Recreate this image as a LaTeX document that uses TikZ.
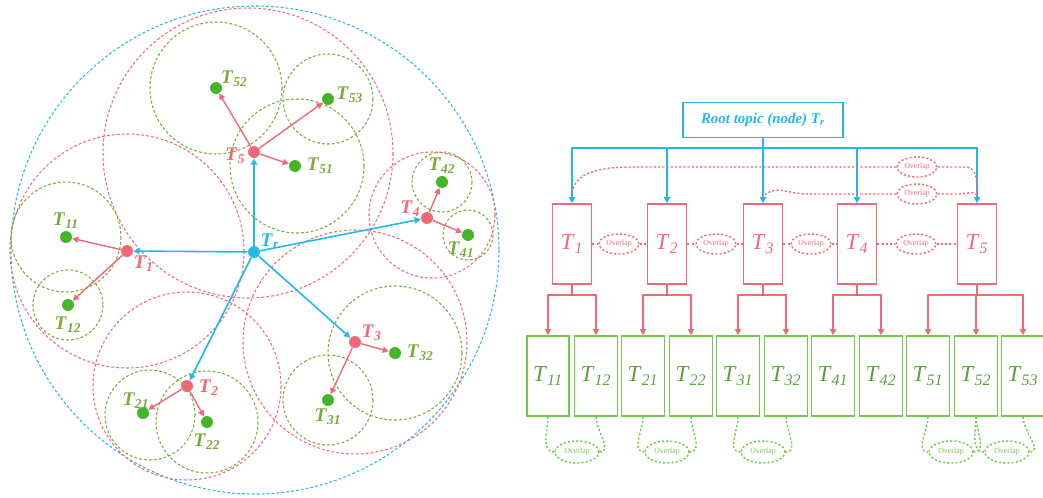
\documentclass[tikz,border=0pt]{standalone}
\usepackage{fontspec}
\setmainfont{Liberation Serif}
\usepackage{xcolor}
\usetikzlibrary{arrows.meta}
\usetikzlibrary{positioning, shapes.geometric}

\definecolor{tblue}{RGB}{35,185,230}
\definecolor{tred}{RGB}{240,105,120}
\definecolor{tgreen}{RGB}{115,200,75}
\definecolor{tdotg}{RGB}{70,180,40}
\definecolor{tolive}{RGB}{125,170,60}
\newcommand{\Tsub}[1]{\textit{T}\textsubscript{\textit{#1}}}

\begin{document}
\begin{tikzpicture}[x=0.02cm, y=-0.02cm,
    bdot/.style={circle, fill=tblue, minimum size=0.24cm, inner sep=0pt},
    rdot/.style={circle, fill=tred, minimum size=0.24cm, inner sep=0pt},
    gdot/.style={circle, fill=tdotg, minimum size=0.24cm, inner sep=0pt},
    blab/.style={text=tblue, font=\bfseries\fontsize{11}{11}\selectfont, inner sep=1pt},
    rlab/.style={text=tred, font=\bfseries\fontsize{11}{11}\selectfont, inner sep=1pt},
    glab/.style={text=tolive, font=\bfseries\fontsize{11}{11}\selectfont, inner sep=1pt},
    barrow/.style={draw=tblue, line width=0.9pt, -{Triangle[length=3.5pt,width=3.5pt]}},
    rarrow/.style={draw=tred, line width=0.8pt, -{Triangle[length=3.5pt,width=3.5pt]}},
    bring/.style={draw=tblue, line width=0.6pt, dash pattern=on 1.6pt off 1.2pt},
    rring/.style={draw=tred, line width=0.6pt, dash pattern=on 1.6pt off 1.2pt},
    gring/.style={draw=tolive, line width=0.6pt, dash pattern=on 1.6pt off 1.2pt},
    rootbox/.style={draw=tblue, line width=0.9pt, minimum width=3.2cm, minimum height=0.7cm,
        text=tblue, font=\bfseries\itshape\fontsize{8.5}{10}\selectfont},
    pbox/.style={draw=tred, line width=0.9pt, minimum width=0.78cm, minimum height=1.6cm,
        text=tred, font=\fontsize{13}{13}\selectfont},
    cbox/.style={draw=tgreen, line width=0.9pt, minimum width=0.76cm, minimum height=1.6cm,
        text=tgreen!80!black, font=\fontsize{13}{13}\selectfont},
    rovl/.style={ellipse, draw=tred, line width=0.8pt, dash pattern=on 1.2pt off 1.2pt,
        minimum width=0.8cm, minimum height=0.4cm, inner sep=0pt, text=tred, font=\fontsize{4.5}{5}\selectfont},
    govl/.style={ellipse, draw=tgreen, line width=0.8pt, dash pattern=on 1.2pt off 1.2pt,
        minimum width=0.88cm, minimum height=0.44cm, inner sep=0pt, text=tgreen, font=\fontsize{4.5}{5}\selectfont},
    rlink/.style={draw=tred, line width=0.8pt, dash pattern=on 1.2pt off 1.2pt},
    glink/.style={draw=tgreen, line width=0.8pt, dash pattern=on 1.2pt off 1.2pt},
]
    \useasboundingbox (0,0) rectangle (1043,497);

    % left: topic circles
    \node[bdot] (tr) at (254,252) {};
    \node[rdot] (t1) at (127,251) {};
    \node[rdot] (t2) at (187,386) {};
    \node[rdot] (t3) at (355,342) {};
    \node[rdot] (t4) at (427,218) {};
    \node[rdot] (t5) at (254,152) {};
    \node[gdot] (t11) at (66,237) {};
    \node[gdot] (t12) at (68,305) {};
    \node[gdot] (t21) at (143,413) {};
    \node[gdot] (t22) at (207,422) {};
    \node[gdot] (t31) at (328,400) {};
    \node[gdot] (t32) at (395,353) {};
    \node[gdot] (t41) at (468,235) {};
    \node[gdot] (t42) at (442,182) {};
    \node[gdot] (t51) at (295,166) {};
    \node[gdot] (t52) at (216,88) {};
    \node[gdot] (t53) at (328,99) {};

    \draw[bring] (255,250) circle (244);
    \draw[rring] (t1) circle (117);
    \draw[rring] (t2) circle (94);
    \draw[rring] (t3) circle (112);
    \draw[rring] (t4) ++(5,-3) circle (63);
    \draw[rring] (t5) ++(-6,1) circle (145);
    \draw[gring] (t11) circle (55);
    \draw[gring] (t12) circle (35);
    \draw[gring] (t21) ++(7,2) circle (45);
    \draw[gring] (t22) circle (51);
    \draw[gring] (t31) circle (45);
    \draw[gring] (t32) circle (67);
    \draw[gring] (t41) circle (25);
    \draw[gring] (t42) circle (30);
    \draw[gring] (t51) ++(2,0) circle (67);
    \draw[gring] (t52) circle (66);
    \draw[gring] (t53) circle (45);

    \foreach \i in {1,...,5} \draw[barrow] (tr) -- (t\i);
    \foreach \p/\c in {1/11,1/12,2/21,2/22,3/31,3/32,4/41,4/42,5/51,5/52,5/53}
        \draw[rarrow] (t\p) -- (t\c);

    \node[blab, above right=-2pt and 0pt of tr] (ltr) {\Tsub{r}};
    \node[rlab, below right=-1pt and 0pt of t1] (lt1) {\Tsub{1}};
    \node[rlab, below right=-7pt and 3pt of t2] (lt2) {\Tsub{2}};
    \node[rlab, above right=-3pt and 0pt of t3] (lt3) {\Tsub{3}};
    \node[rlab, above left=-3pt and 0pt of t4] (lt4) {\Tsub{4}};
    \node[rlab, left=0pt of t5, yshift=-2pt] (lt5) {\Tsub{5}};
    \node[glab, above=0pt of t11] (lt11) {\Tsub{11}};
    \node[glab, below=2pt of t12] (lt12) {\Tsub{12}};
    \node[glab, above=-2pt of t21, xshift=-4pt] (lt21) {\Tsub{21}};
    \node[glab, below=2pt of t22] (lt22) {\Tsub{22}};
    \node[glab, below=0pt of t31] (lt31) {\Tsub{31}};
    \node[glab, right=2pt of t32] (lt32) {\Tsub{32}};
    \node[glab, below=-1pt of t41, xshift=-4pt] (lt41) {\Tsub{41}};
    \node[glab, above=0pt of t42] (lt42) {\Tsub{42}};
    \node[glab, right=2pt of t51] (lt51) {\Tsub{51}};
    \node[glab, above right=-3pt and -1pt of t52] (lt52) {\Tsub{52}};
    \node[glab, above right=-6pt and 1pt of t53] (lt53) {\Tsub{53}};

    % right: topic tree
    \node[rootbox] (root) at (763,120) {Root topic (node) \Tsub{r}};
    \coordinate (bus) at (763,148);
    \coordinate (fork) at (0,295);
    \node[pbox] (p1) at (572,244) {\Tsub{1}};
    \node[pbox] (p2) at (667,244) {\Tsub{2}};
    \node[pbox] (p3) at (763,244) {\Tsub{3}};
    \node[pbox] (p4) at (857,244) {\Tsub{4}};
    \node[pbox] (p5) at (977,244) {\Tsub{5}};
    \foreach \c/\x in {11/548,12/596,21/643,22/691,31/738,32/786,41/833,42/881,51/928,52/976,53/1023}
        \node[cbox] (c\c) at (\x,376) {\Tsub{\c}};

    \foreach \i in {1,...,5}
        \draw[barrow] (root.south) -- (root.south|-bus) -| (p\i.north);
    \foreach \p/\c in {1/11,1/12,2/21,2/22,3/31,3/32,4/41,4/42,5/51,5/52,5/53}
        \draw[rarrow] (p\p.south) -- (p\p.south|-fork) -| (c\c.north);

    % overlaps between topics
    \node[rovl] (o12) at (619,244) {Overlap};
    \node[rovl] (o23) at (716,244) {Overlap};
    \node[rovl] (o34) at (811,244) {Overlap};
    \node[rovl] (o45) at (916,244) {Overlap};
    \foreach \a/\o/\b in {1/12/2,2/23/3,3/34/4,4/45/5}
        \draw[rlink] (p\a) -- (o\o) -- (p\b);
    \node[rovl] (ot1) at (917,167) {Overlap};
    \node[rovl] (ot2) at (917,194) {Overlap};
    \draw[rlink] (ot1.west) -- ++(-262,0) to[out=180,in=90] ([yshift=4pt]p1.north);
    \draw[rlink] (ot1.east) -- ++(28,0) to[out=0,in=90] ([yshift=4pt]p5.north);
    \draw[rlink] (ot2.west) -- ++(-90,0) to[out=180,in=60] ([yshift=3pt]p3.north);
    \draw[rlink] (ot2.east) -- ++(22,0) to[out=0,in=110] ([yshift=4pt]p5.north);

    % overlaps between subtopics
    \node[govl] (ob1) at (577,452) {Overlap};
    \node[govl] (ob2) at (667,452) {Overlap};
    \node[govl] (ob3) at (763,452) {Overlap};
    \node[govl] (ob4) at (951,452) {Overlap};
    \node[govl] (ob5) at (1007,452) {Overlap};
    \foreach \a/\o/\b in {11/1/12,21/2/22,31/3/32,51/4/52,52/5/53} {
        \draw[glink] (c\a.south) to[out=-90,in=180] (ob\o.west);
        \draw[glink] (c\b.south) to[out=-90,in=0] (ob\o.east);
    }
\end{tikzpicture}
\end{document}
